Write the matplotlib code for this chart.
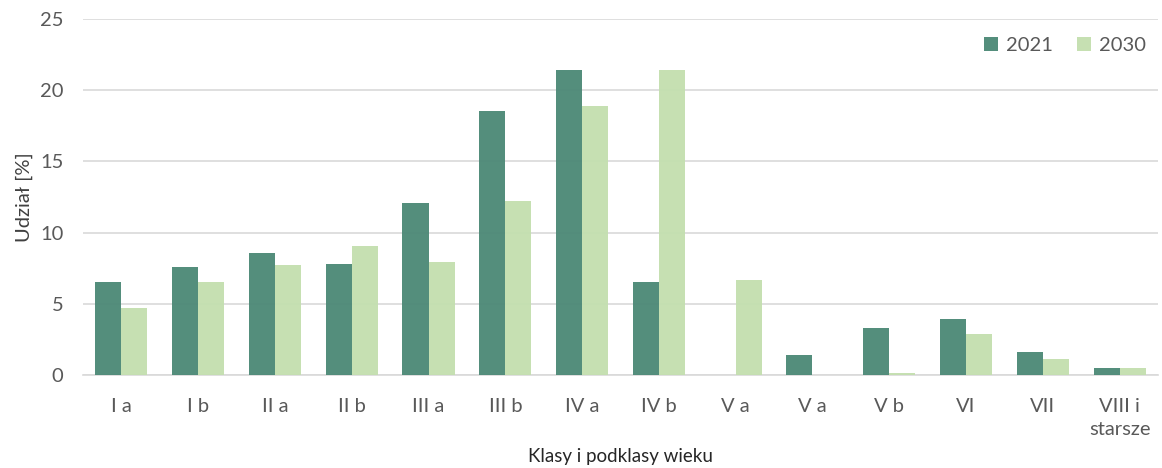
import numpy as np
import matplotlib.pyplot as plt

categories = ["I a", "I b", "II a", "II b", "III a", "III b", "IV a", "IV b",
              "V a", "V a", "V b", "VI", "VII", "VIII i\nstarsze"]
share_2021 = [6.5, 7.55, 8.6, 7.8, 12.05, 18.55, 21.45, 6.55, 0.0, 1.4, 3.3, 3.95, 1.6, 0.5]
share_2030 = [4.7, 6.55, 7.7, 9.05, 7.95, 12.25, 18.9, 21.4, 6.7, 0.0, 0.15, 2.9, 1.1, 0.5]

DARK = "#4E8A78"
LIGHT = "#C4DFB0"
TEXT = "#595959"

plt.rcParams["font.family"] = ["Lato", "DejaVu Sans"]

fig = plt.figure(figsize=(11.62, 4.68), dpi=100)
ax = fig.add_axes([0.0714, 0.199, 0.9252, 0.76])

x = np.arange(len(categories))
w = 0.34
ax.bar(x - w / 2, share_2021, w, color=DARK, label="2021", alpha=0.97, zorder=3)
ax.bar(x + w / 2, share_2030, w, color=LIGHT, label="2030", alpha=0.97, zorder=3)

ax.set_xlim(-0.5, len(categories) - 0.5)
ax.set_ylim(0, 25)
ax.set_yticks(range(0, 26, 5))
ax.set_xticks(x)
ax.set_xticklabels(categories, linespacing=1.4)
ax.yaxis.grid(True, color="#D9D9D9", linewidth=1.2, zorder=0)
ax.set_axisbelow(True)

for s in ["top", "right", "left"]:
    ax.spines[s].set_visible(False)
ax.spines["bottom"].set_color("#D9D9D9")
ax.spines["bottom"].set_linewidth(1.2)

ax.tick_params(axis="both", length=0, labelsize=14.5, colors=TEXT)
ax.tick_params(axis="y", pad=14)
ax.tick_params(axis="x", pad=17)

ax.set_ylabel("Udział [%]", fontsize=14.5, color="#404040", labelpad=5)
ax.set_xlabel("Klasy i podklasy wieku", fontsize=13.5, color="#262626", labelpad=7)

ax.legend(loc="upper right", bbox_to_anchor=(1.006, 1.0), ncol=2, frameon=False,
          fontsize=14.5, labelcolor=TEXT, handlelength=0.7, handleheight=0.7,
          columnspacing=1.2, handletextpad=0.4)

fig.savefig("out.png", dpi=100)
